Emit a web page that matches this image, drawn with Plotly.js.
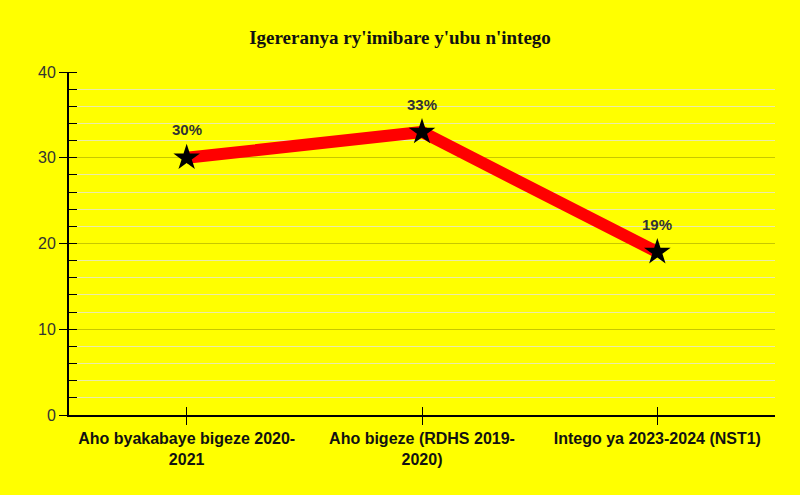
<!DOCTYPE html>
<html>
<head>
<meta charset="utf-8">
<script src="https://cdn.plot.ly/plotly-3.0.1.min.js"></script>
<style>html,body{margin:0;padding:0;background:#ffff00;}#chart{width:800px;height:495px;}</style>
</head>
<body>
<div id="chart"></div>
<script>
const categories = ["Aho byakabaye bigeze 2020-2021", "Aho bigeze (RDHS 2019-2020)", "Intego ya 2023-2024 (NST1)"];
const tickLabels = ["<b>Aho byakabaye bigeze 2020-</b><br><b>2021</b>", "<b>Aho bigeze (RDHS 2019-</b><br><b>2020)</b>", "<b>Intego ya 2023-2024 (NST1)</b>"];
const values = [30, 33, 19];
const valueLabels = ["30%", "33%", "19%"];
const yTicks = [0, 10, 20, 30, 40];

const trace = {
  x: categories,
  y: values,
  type: 'scatter',
  mode: 'lines+markers',
  line: {color: '#ff0000', width: 12},
  marker: {symbol: 'star', size: 20, color: '#000000', line: {width: 0}},
  hoverinfo: 'skip'
};
const tickTrace = {
  x: categories, y: values, xaxis: 'x2', yaxis: 'y2', mode: 'none', type: 'scatter', hoverinfo: 'skip', showlegend: false
};

const annotations = categories.map((c, i) => ({
  x: c, y: values[i], text: '<b>' + valueLabels[i] + '</b>', showarrow: false,
  yshift: 28, font: {family: 'Liberation Sans, Arial, sans-serif', size: 15, color: '#333333'}
}));

const layout = {
  width: 800, height: 495,
  paper_bgcolor: '#ffff00', plot_bgcolor: '#ffff00',
  margin: {l: 69, r: 25, t: 72, b: 80},
  showlegend: false,
  title: {text: "<b>Igereranya ry'imibare y'ubu n'intego</b>", x: 0.5, xanchor: 'center', y: 0.925, yanchor: 'middle',
    font: {family: 'Liberation Serif, Times New Roman, serif', size: 19, color: '#111111'}},
  xaxis: {
    type: 'category', range: [-0.5, 2.5], tickvals: categories, ticktext: tickLabels,
    showline: true, linecolor: '#000000', linewidth: 2, showgrid: false, zeroline: false,
    ticks: 'outside', ticklen: 8, tickcolor: '#000000', tickwidth: 1,
    tickfont: {family: 'Liberation Sans, Arial, sans-serif', size: 16, color: '#111111'}
  },
  xaxis2: {
    type: 'category', range: [-0.5, 2.5], overlaying: 'x', anchor: 'y', tickvals: categories, showticklabels: false,
    ticks: 'inside', ticklen: 8, tickcolor: '#000000', tickwidth: 1, showgrid: false, showline: false, zeroline: false
  },
  yaxis: {
    range: [0, 40], tickvals: yTicks, showline: true, linecolor: '#000000', linewidth: 2,
    ticks: 'outside', ticklen: 8, tickcolor: '#000000', tickwidth: 1, zeroline: false,
    showgrid: true, gridcolor: '#c8c800', gridwidth: 1,
    tickfont: {family: 'Liberation Sans, Arial, sans-serif', size: 16, color: '#333333'},
    minor: {dtick: 2, ticks: 'inside', ticklen: 8, tickcolor: '#000000', tickwidth: 1, showgrid: true, gridcolor: '#ebeba8', gridwidth: 1}
  },
  yaxis2: {
    range: [0, 40], overlaying: 'y', anchor: 'x', tickvals: yTicks, showticklabels: false,
    ticks: 'inside', ticklen: 8, tickcolor: '#000000', tickwidth: 1, showgrid: false, showline: false, zeroline: false
  },
  annotations: annotations
};

Plotly.newPlot('chart', [tickTrace, trace], layout, {displayModeBar: false, staticPlot: true});
</script>
</body>
</html>
